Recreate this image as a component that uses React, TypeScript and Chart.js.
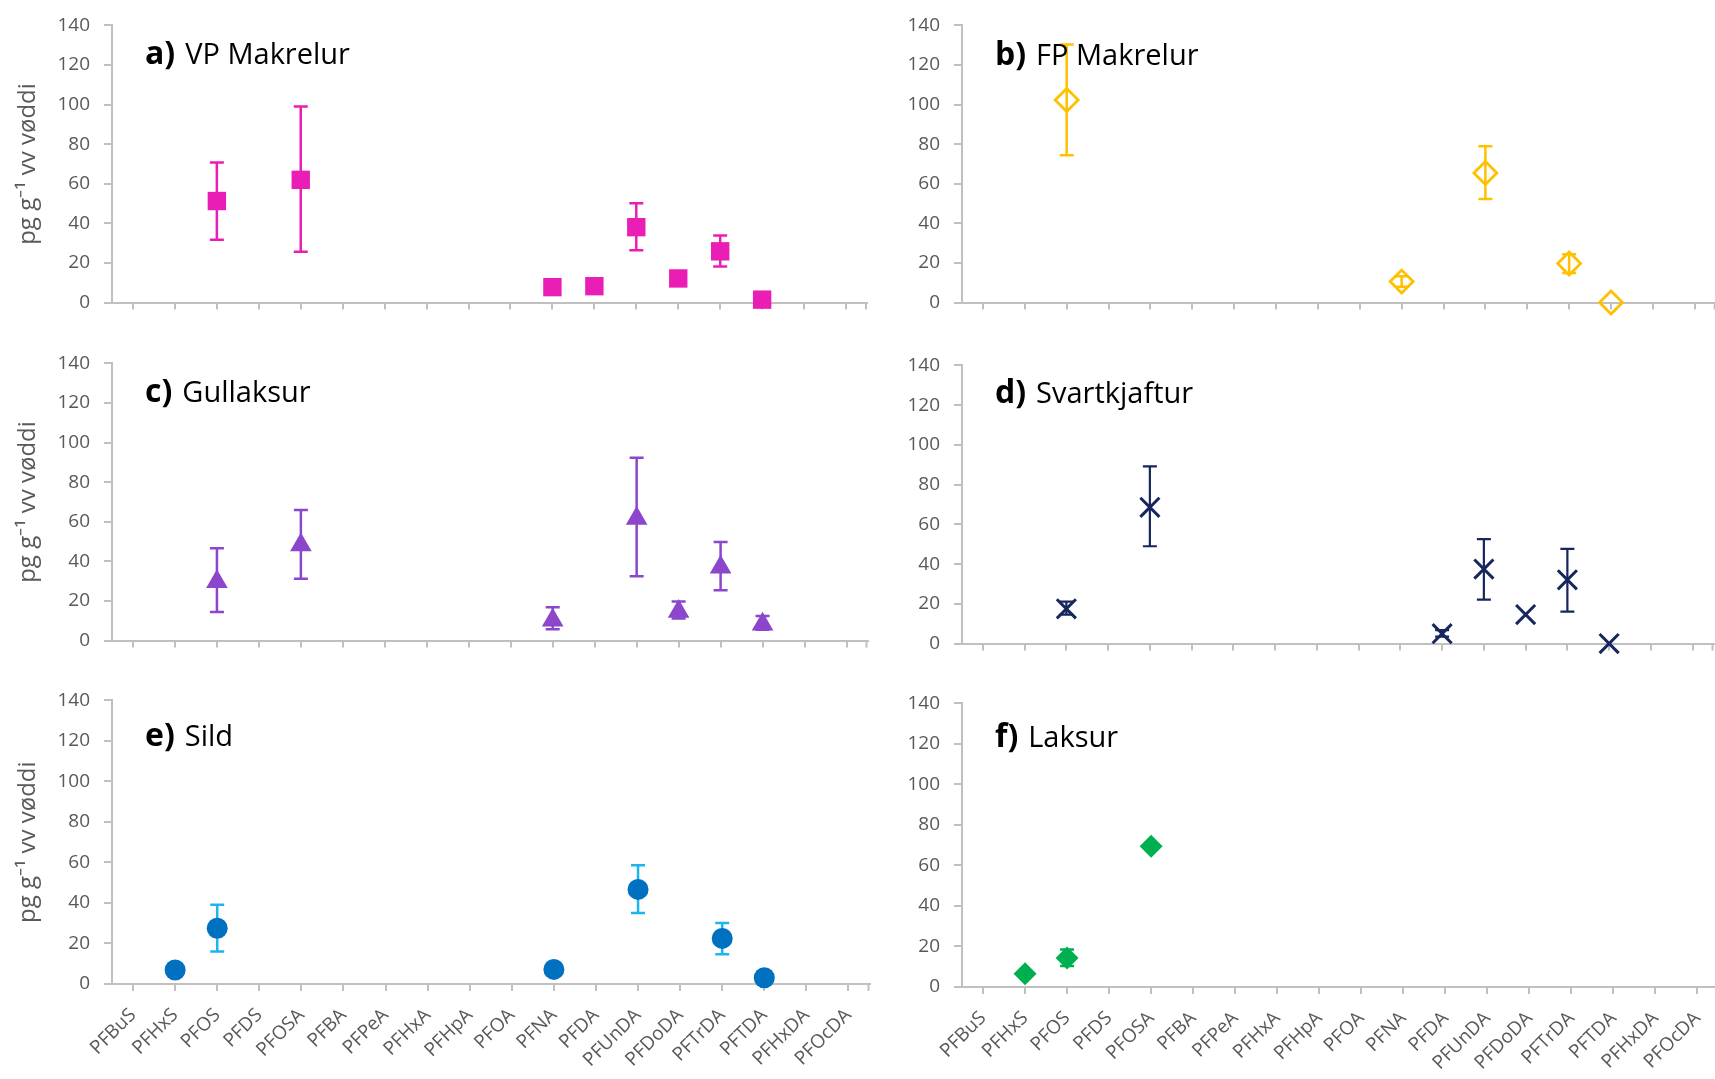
import React, { useEffect, useRef } from 'react';
import { Chart, registerables } from 'chart.js';
Chart.register(...registerables);

const compounds = ['PFBuS', 'PFHxS', 'PFOS', 'PFDS', 'PFOSA', 'PFBA', 'PFPeA', 'PFHxA', 'PFHpA', 'PFOA', 'PFNA', 'PFDA', 'PFUnDA', 'PFDoDA', 'PFTrDA', 'PFTDA', 'PFHxDA', 'PFOcDA'];
const yTicks = [0, 20, 40, 60, 80, 100, 120, 140];
const yTitle = 'pg g\u207B\u00B9 vv vøddi';

// a) VP Makrelur
const vpMean = [null, null, 51.3, null, 62, null, null, null, null, null, 7.8, 8.3, 38.1, 12.2, 25.9, 1.5, null, null];
const vpLow = [null, null, 31.8, null, 25.7, null, null, null, null, null, null, null, 26.5, null, 18.2, null, null, null];
const vpHigh = [null, null, 70.8, null, 99, null, null, null, null, null, null, null, 50.2, null, 33.9, null, null, null];
// b) FP Makrelur
const fpMean = [null, null, 102.3, null, null, null, null, null, null, null, 10.6, null, 65.5, null, 19.7, 0, null, null];
const fpLow = [null, null, 74.4, null, null, null, null, null, null, null, 8, null, 52.3, null, 15, null, null, null];
const fpHigh = [null, null, 130.3, null, null, null, null, null, null, null, 13.3, null, 79, null, 24.4, null, null, null];
// c) Gullaksur
const glMean = [null, null, 29.7, null, 48.3, null, null, null, null, null, 10.3, null, 61.7, 14.7, 37, 8.3, null, null];
const glLow = [null, null, 14.5, null, 31.3, null, null, null, null, null, 5.7, null, 32.5, 11.2, 25.4, 5.5, null, null];
const glHigh = [null, null, 46.7, null, 66, null, null, null, null, null, 16.8, null, 92.3, 19.7, 49.8, 12.4, null, null];
// d) Svartkjaftur
const skMean = [null, null, 17.5, null, 68.6, null, null, null, null, null, null, 5.0, 37.5, 14.6, 32.1, 0, null, null];
const skLow = [null, null, 14.6, null, 49, null, null, null, null, null, null, 3.5, 22.1, null, 16.1, null, null, null];
const skHigh = [null, null, 21.1, null, 89.2, null, null, null, null, null, null, 6.8, 52.6, null, 47.7, null, null, null];
// e) Sild
const siMean = [null, 6.9, 27.5, null, null, null, null, null, null, null, 7.2, null, 46.7, null, 22.5, 3.1, null, null];
const siLow = [null, null, 16.1, null, null, null, null, null, null, null, null, null, 35, null, 14.7, null, null, null];
const siHigh = [null, null, 39.1, null, null, null, null, null, null, null, null, null, 58.6, null, 30.1, null, null, null];
// f) Laksur
const lkMean = [null, 6.5, 14.3, null, 69.5, null, null, null, null, null, null, null, null, null, null, null, null, null];
const lkLow = [null, null, 10.4, null, null, null, null, null, null, null, null, null, null, null, null, null, null, null];
const lkHigh = [null, null, 18.5, null, null, null, null, null, null, null, null, null, null, null, null, null, null, null];

const AXIS = '#C0C0C0';
const TXT = '#595959';
const FONT = "'Open Sans', sans-serif";

type PanelCfg = {
  tag: string; name: string;
  left: number; top: number; plotH: number; xH: number;
  showX: boolean; showTitle: boolean; titleDy: number;
  mean: (number | null)[]; low: (number | null)[]; high: (number | null)[];
  style: string; radius: number; fill: string; stroke: string; bw: number;
  errColor: string; errW: number;
};

const panels: PanelCfg[] = [
  { tag: 'a)', name: 'VP Makrelur', left: 0, top: 0, plotH: 286, xH: 20, showX: false, showTitle: true, titleDy: 39,
    mean: vpMean, low: vpLow, high: vpHigh, style: 'rect', radius: 13, fill: '#EA1DB4', stroke: '#EA1DB4', bw: 0, errColor: '#EA1DB4', errW: 2.5 },
  { tag: 'b)', name: 'FP Makrelur', left: 850, top: 0, plotH: 286, xH: 20, showX: false, showTitle: false, titleDy: 40,
    mean: fpMean, low: fpLow, high: fpHigh, style: 'rectRot', radius: 11.5, fill: 'rgba(0,0,0,0)', stroke: '#FFC000', bw: 2.8, errColor: '#FFC000', errW: 2.5 },
  { tag: 'c)', name: 'Gullaksur', left: 0, top: 338, plotH: 286, xH: 20, showX: false, showTitle: true, titleDy: 39,
    mean: glMean, low: glLow, high: glHigh, style: 'triangle', radius: 12.5, fill: '#8C46CC', stroke: '#8C46CC', bw: 0, errColor: '#8C46CC', errW: 2.5 },
  { tag: 'd)', name: 'Svartkjaftur', left: 850, top: 340, plotH: 287, xH: 20, showX: false, showTitle: false, titleDy: 38,
    mean: skMean, low: skLow, high: skHigh, style: 'crossRot', radius: 13.5, fill: '#17275E', stroke: '#17275E', bw: 3, errColor: '#17275E', errW: 2.2 },
  { tag: 'e)', name: 'Sild', left: 0, top: 675, plotH: 287, xH: 95, showX: true, showTitle: true, titleDy: 46,
    mean: siMean, low: siLow, high: siHigh, style: 'circle', radius: 10.5, fill: '#0070C0', stroke: '#0070C0', bw: 0, errColor: '#1EB4F0', errW: 2.5 },
  { tag: 'f)', name: 'Laksur', left: 850, top: 678, plotH: 287, xH: 92, showX: true, showTitle: false, titleDy: 44,
    mean: lkMean, low: lkLow, high: lkHigh, style: 'rectRot', radius: 11.5, fill: '#00B050', stroke: '#00B050', bw: 0, errColor: '#00B050', errW: 2.5 },
];

const W = 880;
const PAD_TOP = 22;
const Y_W = 112;

function Panel({ cfg }: { cfg: PanelCfg }) {
  const ref = useRef<HTMLCanvasElement>(null);
  const H = PAD_TOP + cfg.plotH + cfg.xH;
  useEffect(() => {
    const errPlugin = {
      id: 'errBars' + cfg.tag,
      beforeDatasetsDraw(chart: any) {
        const xs = chart.scales.x, ys = chart.scales.y, ctx = chart.ctx;
        ctx.save();
        ctx.strokeStyle = cfg.errColor;
        ctx.lineWidth = cfg.errW;
        const cap = 7;
        for (let i = 0; i < cfg.low.length; i++) {
          const lo = cfg.low[i], hi = cfg.high[i];
          if (lo == null || hi == null) continue;
          const px = xs.getPixelForValue(i);
          const yl = ys.getPixelForValue(lo), yh = ys.getPixelForValue(hi);
          ctx.beginPath();
          ctx.moveTo(px, yl); ctx.lineTo(px, yh);
          ctx.moveTo(px - cap, yl); ctx.lineTo(px + cap, yl);
          ctx.moveTo(px - cap, yh); ctx.lineTo(px + cap, yh);
          ctx.stroke();
        }
        ctx.restore();
      },
    };
    const titlePlugin = {
      id: 'panelTitle' + cfg.tag,
      afterDraw(chart: any) {
        const ctx = chart.ctx;
        const a = chart.chartArea;
        // closing tick at the right end of the category axis
        ctx.save();
        ctx.strokeStyle = AXIS;
        ctx.lineWidth = 2;
        ctx.beginPath();
        ctx.moveTo(a.right - 1, a.bottom);
        ctx.lineTo(a.right - 1, a.bottom + 7);
        ctx.stroke();
        ctx.restore();

        const x0 = a.left + 33, y0 = a.top + cfg.titleDy;
        ctx.save();
        ctx.fillStyle = '#000';
        ctx.textBaseline = 'alphabetic';
        ctx.textAlign = 'left';
        ctx.font = `bold 32px ${FONT}`;
        ctx.fillText(cfg.tag, x0, y0);
        const w = ctx.measureText(cfg.tag).width;
        ctx.font = `29px ${FONT}`;
        ctx.fillText(cfg.name, x0 + w + 10, y0);
        ctx.restore();
      },
    };
    const chart = new Chart(ref.current as HTMLCanvasElement, {
      type: 'line',
      data: {
        labels: compounds,
        datasets: [{
          data: cfg.mean as any,
          showLine: false,
          clip: false as any,
          pointStyle: cfg.style as any,
          pointRadius: cfg.radius,
          pointHoverRadius: cfg.radius,
          pointBackgroundColor: cfg.fill,
          pointBorderColor: cfg.stroke,
          pointBorderWidth: cfg.bw,
          borderColor: cfg.stroke,
          backgroundColor: cfg.fill,
        }],
      },
      options: {
        responsive: false,
        animation: false,
        events: [],
        layout: { padding: { top: PAD_TOP, left: 0, right: 8, bottom: 0 } },
        plugins: { legend: { display: false }, tooltip: { enabled: false } },
        scales: {
          x: {
            type: 'category',
            offset: true,
            afterFit: (s: any) => { s.height = cfg.xH; s.paddingLeft = 0; s.paddingRight = 0; },
            grid: { offset: false, drawOnChartArea: false, drawTicks: true, tickLength: 7, color: AXIS, lineWidth: 2 },
            border: { display: true, color: AXIS, width: 2 },
            ticks: {
              display: cfg.showX, autoSkip: false, maxRotation: 45, minRotation: 45,
              color: TXT, font: { family: FONT, size: 19 }, padding: 13,
            },
          },
          y: {
            min: 0, max: 140,
            afterFit: (s: any) => { s.width = Y_W; },
            afterBuildTicks: (s: any) => { s.ticks = yTicks.map((v) => ({ value: v })); },
            grid: { drawOnChartArea: false, drawTicks: true, tickLength: 8, color: AXIS, lineWidth: 2 },
            border: { display: true, color: AXIS, width: 2 },
            ticks: { color: TXT, font: { family: FONT, size: 19 }, padding: 14 },
            title: {
              display: cfg.showTitle, text: yTitle, color: TXT,
              font: { family: FONT, size: 24 }, padding: { top: 14, bottom: 0 },
            },
          },
        },
      },
      plugins: [errPlugin, titlePlugin],
    });
    return () => chart.destroy();
  }, []);
  return (
    <canvas
      ref={ref}
      width={W}
      height={H}
      style={{ position: 'absolute', left: cfg.left, top: cfg.top, width: W, height: H }}
    />
  );
}

export default function App() {
  return (
    <div style={{ position: 'absolute', left: 0, top: 0, width: 1715, height: 1079, overflow: 'hidden', background: '#fff' }}>
      {panels.map((p) => <Panel key={p.tag} cfg={p} />)}
    </div>
  );
}
